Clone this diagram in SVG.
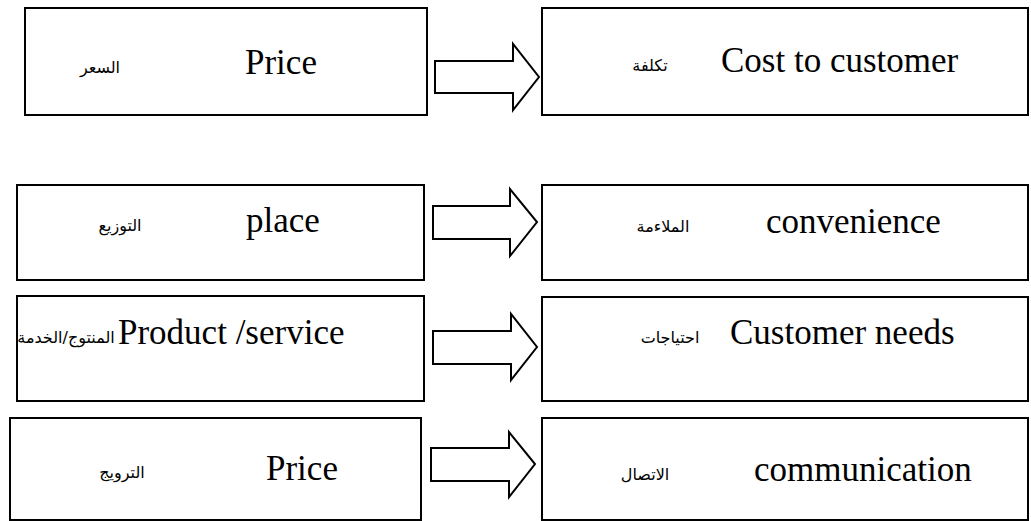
<svg xmlns="http://www.w3.org/2000/svg" width="1031" height="521" viewBox="0 0 1031 521">
  <style>
    .box { fill: #ffffff; stroke: #000000; stroke-width: 2; }
    .arrow { fill: #ffffff; stroke: #000000; stroke-width: 2; stroke-linejoin: miter; }
    .en { font-family: "Liberation Serif", "Times New Roman", serif; font-size: 35px; fill: #000000; }
    .ar { font-family: "DejaVu Sans", "Noto Sans", sans-serif; font-size: 16px; fill: #000000; }
  </style>
  <rect width="1031" height="521" fill="#ffffff"/>

  <!-- left column: marketing mix -->
  <g id="node-price">
    <rect class="box" x="25" y="8" width="402" height="107"/>
    <text class="ar" x="100" y="73" text-anchor="middle" direction="rtl">السعر</text>
    <text class="en" x="245" y="74">Price</text>
  </g>
  <g id="node-place">
    <rect class="box" x="17" y="185" width="407" height="95"/>
    <text class="ar" x="120" y="231" text-anchor="middle" direction="rtl">التوزيع</text>
    <text class="en" x="246" y="232">place</text>
  </g>
  <g id="node-product">
    <rect class="box" x="17" y="296" width="407" height="105"/>
    <text class="ar" x="66" y="343" text-anchor="middle" direction="rtl" font-size="15">المنتوج/الخدمة</text>
    <text class="en" x="118" y="344" font-size="37">Product /service</text>
  </g>
  <g id="node-promotion">
    <rect class="box" x="10" y="418" width="411" height="102"/>
    <text class="ar" x="122" y="478" text-anchor="middle" direction="rtl">الترويج</text>
    <text class="en" x="266" y="480">Price</text>
  </g>

  <!-- right column: customer view -->
  <g id="node-cost">
    <rect class="box" x="542" y="8" width="486" height="107"/>
    <text class="ar" x="650" y="71" text-anchor="middle" direction="rtl">تكلفة</text>
    <text class="en" x="721" y="72">Cost to customer</text>
  </g>
  <g id="node-convenience">
    <rect class="box" x="542" y="185" width="486" height="95"/>
    <text class="ar" x="663" y="232" text-anchor="middle" direction="rtl">الملاءمة</text>
    <text class="en" x="766" y="233">convenience</text>
  </g>
  <g id="node-needs">
    <rect class="box" x="542" y="297" width="486" height="104"/>
    <text class="ar" x="670" y="343" text-anchor="middle" direction="rtl">احتياجات</text>
    <text class="en" x="730" y="344">Customer needs</text>
  </g>
  <g id="node-communication">
    <rect class="box" x="542" y="418" width="486" height="102"/>
    <text class="ar" x="645" y="480" text-anchor="middle" direction="rtl">الاتصال</text>
    <text class="en" x="754" y="481">communication</text>
  </g>

  <!-- block arrows between the columns -->
  <g id="connectors">
    <polygon class="arrow" points="435,61 513,61 513,44 539,77 513,110 513,93 435,93"/>
    <polygon class="arrow" points="433,206 510,206 510,189 537,222 510,256 510,239 433,239"/>
    <polygon class="arrow" points="433,331 511,331 511,314 537,347 511,380 511,364 433,364"/>
    <polygon class="arrow" points="431,448 509,448 509,432 535,464 509,497 509,481 431,481"/>
  </g>
</svg>
